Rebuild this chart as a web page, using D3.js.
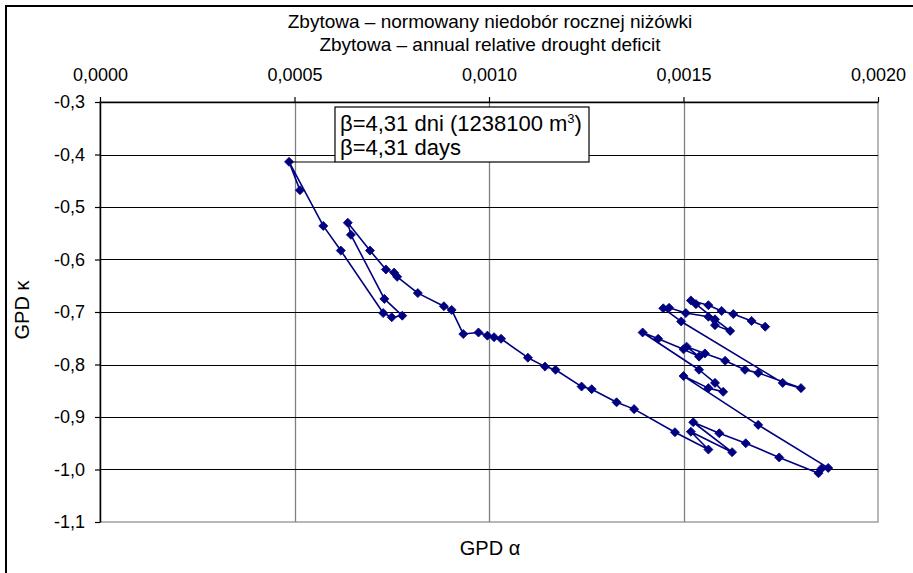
<!DOCTYPE html>
<html>
<head>
<meta charset="utf-8">
<script src="https://cdn.jsdelivr.net/npm/d3@7"></script>
<style>
  html, body { margin: 0; padding: 0; background: #fff; }
  svg { display: block; font-family: "Liberation Sans", Arial, sans-serif; }
</style>
</head>
<body>
<svg id="chart" width="913" height="573"></svg>
<script>
// GPD shape (kappa) against GPD scale-normalised parameter (alpha), in series order
const gpdAlpha = [
  0.000514, 0.000486, 0.000574, 0.000619, 0.000728, 0.000750, 0.000777, 0.000731,
  0.000645, 0.000637, 0.000694, 0.000735, 0.000756, 0.000764, 0.000817, 0.000884,
  0.000904, 0.000934, 0.000973, 0.000996, 0.001013, 0.001031, 0.001100, 0.001144,
  0.001171, 0.001238, 0.001264, 0.001328, 0.001373, 0.001478, 0.001564, 0.001519,
  0.001625, 0.001525, 0.001592, 0.001660, 0.001746, 0.001847, 0.001855, 0.001872,
  0.001692, 0.001500, 0.001564, 0.001602, 0.001581, 0.001540, 0.001395, 0.001435,
  0.001500, 0.001540, 0.001508, 0.001555, 0.001607, 0.001658, 0.001692, 0.001802,
  0.001755, 0.001494, 0.001448, 0.001463, 0.001506, 0.001564, 0.001581, 0.001620,
  0.001581, 0.001532, 0.001519, 0.001564, 0.001598, 0.001628, 0.001675, 0.001710
];
const gpdKappa = [
  -0.468, -0.414, -0.536, -0.583, -0.702, -0.710, -0.707, -0.675,
  -0.553, -0.530, -0.583, -0.619, -0.625, -0.633, -0.664, -0.689,
  -0.696, -0.742, -0.739, -0.745, -0.748, -0.751, -0.787, -0.804,
  -0.810, -0.842, -0.847, -0.872, -0.885, -0.929, -0.962, -0.928,
  -0.967, -0.910, -0.931, -0.950, -0.977, -1.007, -0.998, -0.997,
  -0.915, -0.822, -0.845, -0.852, -0.835, -0.810, -0.739, -0.751,
  -0.771, -0.785, -0.766, -0.779, -0.793, -0.810, -0.816, -0.845,
  -0.835, -0.718, -0.693, -0.692, -0.702, -0.709, -0.725, -0.736,
  -0.714, -0.685, -0.678, -0.687, -0.698, -0.704, -0.717, -0.728
];
const alphaTicks = [0, 0.0005, 0.0010, 0.0015, 0.0020];
const kappaTicks = [-0.3, -0.4, -0.5, -0.6, -0.7, -0.8, -0.9, -1.0, -1.1];
const titleLines = [
  "Zbytowa \u2013 normowany niedobór rocznej niżówki",
  "Zbytowa \u2013 annual relative drought deficit"
];
const noteLines = ["β=4,31 dni (1238100 m", "β=4,31 days"];
const labelledIndex = 1; // point carrying the β annotation

const svg = d3.select("#chart");
const W = 913, H = 573;
const plot = { left: 100, right: 878, top: 102, bottom: 522 };
const navy = "#000080";

const x = d3.scaleLinear().domain([0, 0.002]).range([plot.left, plot.right]);
const y = d3.scaleLinear().domain([-1.1, -0.3]).range([plot.bottom, plot.top]);

const fmtX = v => d3.format(".4f")(v).replace(".", ",");
const fmtY = v => d3.format(".1f")(v).replace("\u2212", "-").replace(".", ",");

// outer frame
svg.append("rect").attr("x", 6).attr("y", 6).attr("width", W).attr("height", H)
  .attr("fill", "#fff").attr("stroke", "#000").attr("stroke-width", 2);

// plot area border (right and bottom sides)
svg.append("rect")
  .attr("x", plot.left).attr("y", plot.top)
  .attr("width", plot.right - plot.left).attr("height", plot.bottom - plot.top)
  .attr("fill", "#fff").attr("stroke", "#a0a0a0").attr("stroke-width", 1.5);

// vertical gridlines (grey)
svg.append("g").selectAll("line").data(alphaTicks.slice(1, -1)).join("line")
  .attr("x1", d => Math.round(x(d)) + 0.5).attr("x2", d => Math.round(x(d)) + 0.5)
  .attr("y1", plot.top).attr("y2", plot.bottom)
  .attr("stroke", "#808080").attr("stroke-width", 1.3);

// horizontal gridlines (black)
svg.append("g").selectAll("line").data(kappaTicks.slice(1, -1)).join("line")
  .attr("x1", plot.left).attr("x2", plot.right)
  .attr("y1", d => Math.round(y(d)) + 0.5).attr("y2", d => Math.round(y(d)) + 0.5)
  .attr("stroke", "#000").attr("stroke-width", 1.2);

// top (alpha) axis
const xAxis = d3.axisTop(x).tickValues(alphaTicks).tickFormat(fmtX)
  .tickSizeInner(5).tickSizeOuter(0).tickPadding(16);
const gx = svg.append("g").attr("transform", `translate(0,${plot.top})`).call(xAxis);
gx.select(".domain").attr("stroke", "#000").attr("stroke-width", 1.5);
gx.selectAll(".tick line").attr("stroke", "#000").attr("stroke-width", 1.2);
gx.selectAll(".tick text").attr("font-size", 18).attr("font-family", "Liberation Sans, Arial, sans-serif")
  .attr("fill", "#000");

// left (kappa) axis
const yAxis = d3.axisLeft(y).tickValues(kappaTicks).tickFormat(fmtY)
  .tickSizeInner(5).tickSizeOuter(0).tickPadding(10);
const gy = svg.append("g").attr("transform", `translate(${plot.left},0)`).call(yAxis);
gy.select(".domain").attr("stroke", "#000").attr("stroke-width", 1.5);
gy.selectAll(".tick line").attr("stroke", "#000").attr("stroke-width", 1.2);
gy.selectAll(".tick text").attr("font-size", 18).attr("font-family", "Liberation Sans, Arial, sans-serif")
  .attr("fill", "#000");

// series line and diamond markers
const pts = gpdAlpha.map((a, i) => [x(a), y(gpdKappa[i])]);
svg.append("path").datum(pts)
  .attr("d", d3.line())
  .attr("fill", "none").attr("stroke", navy).attr("stroke-width", 1.6)
  .attr("stroke-linejoin", "round");

const diamond = d3.symbol().type(d3.symbolDiamond2).size(52);
svg.append("g").selectAll("path").data(pts).join("path")
  .attr("transform", d => `translate(${d[0]},${d[1]})`)
  .attr("d", diamond)
  .attr("fill", navy).attr("stroke", navy).attr("stroke-width", 0.8);

// annotation box with leader to the labelled point
const box = { x: 335, y: 107, w: 254, h: 55 };
const lp = pts[labelledIndex];
svg.append("line")
  .attr("x1", lp[0]).attr("y1", box.y + box.h).attr("x2", box.x).attr("y2", box.y + box.h)
  .attr("stroke", "#000").attr("stroke-width", 1.2);
svg.append("rect").attr("x", box.x).attr("y", box.y).attr("width", box.w).attr("height", box.h)
  .attr("fill", "#fff").attr("stroke", "#000").attr("stroke-width", 1.2);
const note = svg.append("g").attr("font-size", 22).attr("fill", "#000");
const t1 = note.append("text").attr("x", box.x + 5).attr("y", box.y + 24);
t1.append("tspan").text(noteLines[0]);
t1.append("tspan").attr("dy", -8).attr("font-size", 13).text("3");
t1.append("tspan").attr("dy", 8).text(")");
note.append("text").attr("x", box.x + 5).attr("y", box.y + 48).text(noteLines[1]);

// titles
svg.append("g").selectAll("text").data(titleLines).join("text")
  .attr("x", 490).attr("y", (d, i) => 28 + i * 23)
  .attr("text-anchor", "middle").attr("font-size", 19).attr("fill", "#000")
  .text(d => d);

svg.append("text").attr("x", 490).attr("y", 555).attr("text-anchor", "middle")
  .attr("font-size", 20).text("GPD α");
svg.append("text").attr("transform", "translate(29,310) rotate(-90)")
  .attr("text-anchor", "middle").attr("font-size", 20).text("GPD κ");
</script>
</body>
</html>
